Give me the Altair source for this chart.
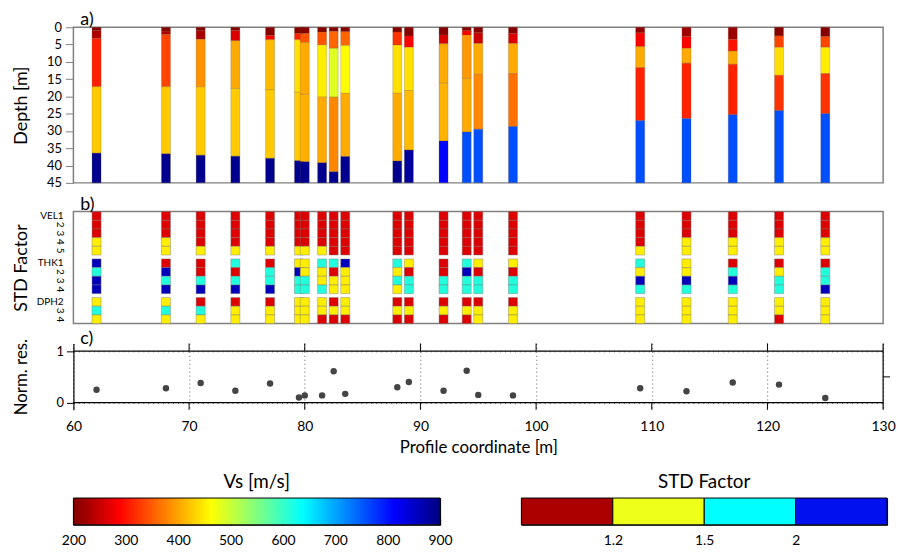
import json
import altair as alt
import pandas as pd

# ---------------- data ----------------
positions = [62, 68, 71, 74, 77, 79.5, 80, 81.5, 82.5, 83.5, 88, 89, 92, 94, 95, 98,
             109, 113, 117, 121, 125]

# layer interface depths [m] per profile (top layers -> half-space)
interfaces = [
    [1.0, 3.2, 17.2, 36.4],
    [1.1, 2.1, 17.2, 36.6],
    [1.0, 3.5, 17.2, 37.0],
    [0.95, 3.9, 17.7, 37.3],
    [2.4, 3.6, 18.1, 37.9],
    [1.8, 3.6, 18.8, 38.6],
    [1.8, 4.4, 19.4, 38.9],
    [1.4, 5.1, 20.2, 39.2],
    [1.2, 6.1, 20.2, 41.8],
    [1.3, 5.3, 19.1, 37.4],
    [1.4, 5.1, 19.1, 38.7],
    [2.5, 5.8, 18.3, 35.5],
    [2.2, 4.8, 16.2, 32.9],
    [1.0, 2.2, 14.8, 30.3],
    [1.6, 4.7, 13.6, 29.5],
    [1.8, 4.7, 13.4, 28.7],
    [1.6, 5.6, 11.7, 27.0],
    [2.7, 6.1, 10.4, 26.4],
    [3.5, 6.9, 10.7, 25.3],
    [2.5, 5.8, 13.9, 24.1],
    [2.7, 5.8, 13.4, 25.0],
]
# shear-wave velocity [m/s] per layer
layer_vs = [
    [205, 233, 309, 427, 890],
    [205, 233, 334, 427, 890],
    [205, 228, 386, 427, 890],
    [205, 264, 404, 427, 890],
    [205, 287, 416, 427, 890],
    [205, 309, 441, 427, 890],
    [205, 346, 404, 408, 890],
    [205, 346, 451, 404, 890],
    [205, 357, 485, 381, 890],
    [205, 357, 462, 404, 890],
    [205, 322, 441, 404, 890],
    [205, 287, 441, 416, 880],
    [205, 264, 404, 410, 812],
    [205, 287, 392, 404, 758],
    [205, 252, 404, 381, 758],
    [205, 264, 404, 365, 758],
    [210, 287, 404, 311, 758],
    [222, 287, 404, 311, 758],
    [218, 299, 404, 311, 758],
    [205, 334, 439, 322, 758],
    [205, 334, 451, 322, 758],
]
# STD factor class per parameter (VEL1-5, THK1-4, DPH2-4): R <1.2, Y 1.2-1.5, C 1.5-2, B >2
std_codes = [
    "RRRYY" "BCBB" "YCY",
    "RRRYY" "RBCB" "YCY",
    "RRRRY" "RRCB" "RCY",
    "RRRRY" "CRCB" "RYY",
    "RRRRY" "RCCB" "RYY",
    "RRRRY" "YBCC" "YYY",
    "RRRRY" "YYCC" "YYY",
    "RRRRY" "CYYC" "YYR",
    "RRRRR" "CRYY" "RYR",
    "RRRRR" "BYYY" "YYR",
    "RRRRR" "CYCY" "RYR",
    "RRRRR" "YRCC" "RYR",
    "RRRRR" "RRCC" "RYR",
    "RRRRR" "CBCC" "RYR",
    "RRRRR" "YRCC" "RYY",
    "RRRRR" "YRCC" "RYY",
    "RRRRY" "CYBC" "YYY",
    "RRRYY" "YYBC" "YYY",
    "RRRYY" "RCBC" "YYY",
    "RRRYY" "RYCC" "YYR",
    "RRRYY" "RCCB" "YYY",
]
std_group_sizes = [5, 4, 3]
std_row_labels = ["VEL1", "2", "3", "4", "5", "THK1", "2", "3", "4", "DPH2", "3", "4"]
std_cell_colors = {"R": "#DD0000", "Y": "#FFEE00", "C": "#22FFDD", "B": "#0000BB"}

residuals = [0.25, 0.28, 0.38, 0.23, 0.37, 0.10, 0.14, 0.14, 0.61, 0.17, 0.30,
             0.40, 0.23, 0.62, 0.15, 0.14, 0.28, 0.22, 0.39, 0.35, 0.09]

x_ticks = [60, 70, 80, 90, 100, 110, 120, 130]
depth_ticks = [0, 5, 10, 15, 20, 25, 30, 35, 40, 45]
res_ticks = [0, 0.5, 1]
res_lines = [0, 1]
vs_ticks = [200, 300, 400, 500, 600, 700, 800, 900]
std_legend_labels = ["1.2", "1.5", "2"]
std_legend_colors = ["#AA0000", "#EEFF1A", "#00FFFF", "#0010EE"]

# jet colormap (reversed: low Vs = dark red)
jet_domain = [200, 287.5, 462.5, 637.5, 812.5, 900]
jet_colors = ["#800000", "#ff0000", "#ffff00", "#00ffff", "#0000ff", "#000080"]

# ---------------- style ----------------
FONT = "Lato"
W = 817
HALF = 0.39
GAP = 0.45
FRAME = "#808080"
TITLE_X = -43
RTICK = 0.6

x_scale = alt.Scale(domain=[x_ticks[0], x_ticks[-1]], nice=False, zero=False)

def panel_title(txt, offset):
    return alt.TitleParams(txt, anchor="start", frame="group", dx=7, fontSize=18,
                           fontWeight="normal", font=FONT, offset=offset)

# ---------------- panel a ----------------
rows = []
for p, ifs, vs in zip(positions, interfaces, layer_vs):
    tops = [depth_ticks[0]] + ifs
    bots = ifs + [depth_ticks[-1]]
    for t, b, v in zip(tops, bots, vs):
        rows.append({"x": p, "top": t, "bot": b, "vs": v})
df_a = pd.DataFrame(rows)

panel_a = alt.Chart(df_a).transform_calculate(
    x0=f"datum.x - {HALF}", x1=f"datum.x + {HALF}"
).mark_rect(stroke="#6b5030", strokeWidth=0.5, strokeOpacity=0.5).encode(
    x=alt.X("x0:Q", scale=x_scale, axis=None),
    x2="x1:Q",
    y=alt.Y("top:Q", scale=alt.Scale(domain=[depth_ticks[0], depth_ticks[-1]], reverse=True,
                                      nice=False, zero=False),
            axis=alt.Axis(values=depth_ticks, title="Depth [m]", titleFontSize=18,
                          titleFontWeight="normal", titleX=TITLE_X, labelFontSize=13,
                          tickSize=8, tickColor=FRAME, domain=False, grid=False,
                          labelPadding=4, labelColor="black", labelOverlap=False)),
    y2="bot:Q",
    color=alt.Color("vs:Q", scale=alt.Scale(domain=jet_domain, range=jet_colors,
                                            interpolate="rgb"), legend=None),
).properties(width=W, height=157, title=panel_title("a)", -8),
             view=alt.ViewBackground(stroke=FRAME, strokeWidth=1.5))

# ---------------- panel b ----------------
row_y = []
for gi, n in enumerate(std_group_sizes):
    for k in range(n):
        row_y.append(len(row_y) + gi * GAP)
row_centers = [y + 0.5 for y in row_y]
rows = []
for p, code in zip(positions, std_codes):
    for j, ch in enumerate(code):
        rows.append({"x": p, "top": row_y[j], "bot": row_y[j] + 1,
                     "col": std_cell_colors[ch]})
df_b = pd.DataFrame(rows)
b_max = row_y[-1] + 1
y_scale_b = alt.Scale(domain=[0, b_max], reverse=True, nice=False, zero=False)

cells = alt.Chart(df_b).transform_calculate(
    x0=f"datum.x - {HALF}", x1=f"datum.x + {HALF}"
).mark_rect(stroke="#777777", strokeWidth=0.6, strokeOpacity=0.7).encode(
    x=alt.X("x0:Q", scale=x_scale, axis=None),
    x2="x1:Q",
    y=alt.Y("top:Q", scale=y_scale_b,
            axis=alt.Axis(labels=False, title="STD Factor", titleFontSize=18,
                          titleFontWeight="normal", titleX=TITLE_X, ticks=False,
                          domain=False, grid=False)),
    y2="bot:Q",
    color=alt.Color("col:N", scale=None),
)

lab_df = pd.DataFrame({"y": row_centers, "label": std_row_labels})
lab_df["digit"] = lab_df["label"].str.isdigit()
group_labels = alt.Chart(lab_df).transform_filter("!datum.digit").mark_text(
    align="right", baseline="middle", fontSize=10, font=FONT, color="black").encode(
    x=alt.value(-10), y=alt.Y("y:Q", scale=y_scale_b), text="label:N")
digit_labels = alt.Chart(lab_df).transform_filter("datum.digit").mark_text(
    align="center", baseline="middle", fontSize=10, font=FONT, color="black",
    angle=90).encode(
    x=alt.value(-14), y=alt.Y("y:Q", scale=y_scale_b), text="label:N")

panel_b = alt.layer(cells, group_labels, digit_labels).properties(
    width=W, height=113, title=panel_title("b)", -3),
    view=alt.ViewBackground(stroke=FRAME, strokeWidth=1.5))

# ---------------- panel c ----------------
res_domain = [-0.14, 1.15]
y_scale_c = alt.Scale(domain=res_domain, nice=False, zero=False)
df_c = pd.DataFrame({"x": positions, "r": residuals})

points = alt.Chart(df_c).mark_circle(size=42, color="#444444", opacity=1).encode(
    x=alt.X("x:Q", scale=x_scale,
            axis=alt.Axis(values=x_ticks, title="Profile coordinate [m]", titleFontSize=17,
                          titleFontWeight="normal", labelFontSize=14, ticks=False,
                          domain=False, grid=True, gridDash=[1, 3], gridColor="#333333",
                          gridWidth=0.8, labelPadding=10, titlePadding=6,
                          labelColor="black", labelFlush=False, labelOverlap=False)),
    y=alt.Y("r:Q", scale=y_scale_c,
            axis=alt.Axis(values=res_ticks, format="~g", title="Norm. res.", titleFontSize=17,
                          titleFontWeight="normal", titleX=TITLE_X, labelFontSize=13,
                          tickSize=7, tickColor="black", domain=True, domainColor="black",
                          domainWidth=1.2, grid=True, gridDash=[1, 4], gridColor="#333333",
                          gridWidth=0.8, labelPadding=3, labelColor="black",
                          labelOverlap=False)),
)

hlines = alt.Chart(pd.DataFrame({"y": res_lines})).mark_rule(color="black", strokeWidth=1.2).encode(
    y=alt.Y("y:Q", scale=y_scale_c),
)

# right-hand axis line with its tick at 0.5
right_df = pd.DataFrame({"x": [x_ticks[-1]], "y": [res_ticks[1]]})
right_line = alt.Chart(right_df).mark_rule(color="black", strokeWidth=1.2).encode(
    x=alt.X("x:Q", scale=x_scale),
)
right_tick = alt.Chart(right_df).transform_calculate(x1=f"datum.x + {RTICK}").mark_rule(
    color="black", strokeWidth=1).encode(
    x=alt.X("x:Q", scale=x_scale), x2="x1:Q",
    y=alt.Y("y:Q", scale=y_scale_c),
)

stub_rows = []
for t in x_ticks[1:-1]:
    stub_rows.append({"x": t, "y0": res_lines[1], "y1": res_domain[1]})
    stub_rows.append({"x": t, "y0": res_domain[0], "y1": res_lines[0]})
stubs = alt.Chart(pd.DataFrame(stub_rows)).mark_rule(color="black", strokeWidth=1).encode(
    x=alt.X("x:Q", scale=x_scale),
    y=alt.Y("y0:Q", scale=y_scale_c),
    y2="y1:Q",
)

panel_c = alt.layer(points, stubs, hlines, right_line, right_tick).properties(
    width=W, height=67, title=panel_title("c)", -10),
    view=alt.ViewBackground(stroke="transparent"))

# ---------------- colour bars ----------------
grad = alt.LinearGradient(
    gradient="linear", x1=0, x2=1, y1=0, y2=0,
    stops=[alt.GradientStop(offset=(v - jet_domain[0]) / (jet_domain[-1] - jet_domain[0]), color=c)
           for v, c in zip(jet_domain, jet_colors)])

bar_title_kw = dict(fontSize=19, fontWeight="normal", font=FONT, offset=6, lineHeight=12)

vs_df = pd.DataFrame({"lo": [vs_ticks[0]], "hi": [vs_ticks[-1]]})
vs_scale = alt.Scale(domain=[vs_ticks[0], vs_ticks[-1]], nice=False, zero=False)
vs_bar = alt.Chart(vs_df).mark_rect(color=grad, stroke="black", strokeWidth=1).encode(
    x=alt.X("lo:Q", scale=vs_scale,
            axis=alt.Axis(values=vs_ticks, title=None, labelFontSize=14, tickSize=6,
                          offset=-6, tickColor="black", domain=False, grid=False,
                          labelPadding=9, labelColor="black", labelFlush=False,
                          labelOverlap=False)),
    x2="hi:Q",
).properties(
    width=370, height=27,
    title=alt.TitleParams(["", "Vs [m/s]"], **bar_title_kw),
    view=alt.ViewBackground(stroke="black", strokeWidth=1))

std_df = pd.DataFrame({"i": list(range(len(std_legend_colors))), "col": std_legend_colors})
std_bar = alt.Chart(std_df).transform_calculate(i1="datum.i + 1").mark_rect(
    stroke="black", strokeWidth=1).encode(
    x=alt.X("i:Q", scale=alt.Scale(domain=[0, len(std_legend_colors)], nice=False, zero=False),
            axis=alt.Axis(values=[1, 2, 3],
                          labelExpr=f"{json.dumps(std_legend_labels)}[datum.value - 1]",
                          title=None, labelFontSize=14, ticks=False, domain=False, grid=False,
                          labelPadding=9, labelColor="black", labelFlush=False)),
    x2="i1:Q",
    color=alt.Color("col:N", scale=None),
).properties(
    width=369, height=27,
    title=alt.TitleParams(["", "STD Factor"], **bar_title_kw),
    view=alt.ViewBackground(stroke="black", strokeWidth=1))

bars = alt.hconcat(vs_bar, std_bar, spacing=68)

chart = alt.vconcat(panel_a, panel_b, panel_c, bars, spacing=4).resolve_scale(
    color="independent", x="independent").properties(
    padding={"left": 4, "top": 0, "right": 0, "bottom": 0}
).configure(font=FONT).configure_title(font=FONT)

chart.save("out.html", embed_options={"renderer": "svg", "actions": False})
